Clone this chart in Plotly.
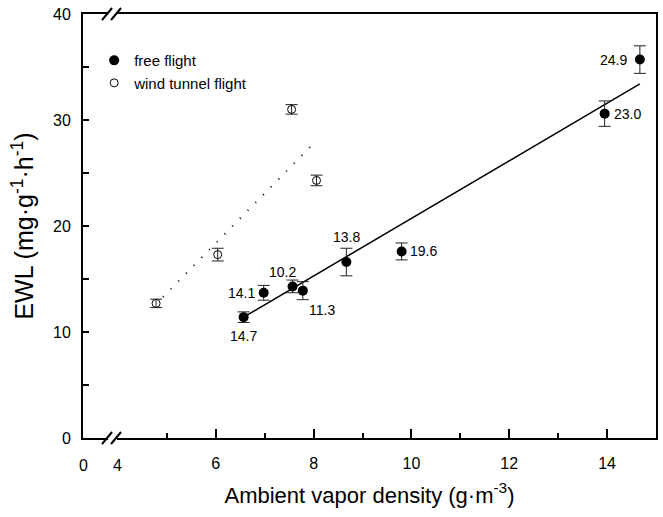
import plotly.graph_objects as go

# ---- data ----
free_x = [6.57, 6.98, 7.57, 7.78, 8.67, 9.80, 13.95, 14.67]
free_y = [11.4, 13.7, 14.3, 13.9, 16.6, 17.6, 30.6, 35.7]
free_err = [0.5, 0.7, 0.6, 0.85, 1.3, 0.8, 1.2, 1.3]
free_labels = ["14.7", "14.1", "10.2", "11.3", "13.8", "19.6", "23.0", "24.9"]

wind_x = [4.78, 6.04, 7.55, 8.06]
wind_y = [12.7, 17.3, 31.0, 24.3]
wind_err = [0.4, 0.6, 0.45, 0.5]

free_fit_x = [6.57, 14.67]
free_fit_y = [11.4, 33.4]
wind_fit_x = [4.92, 7.94]
wind_fit_y = [13.3, 27.5]

x_tick_vals = [6, 8, 10, 12, 14]
x_tick_text = ["6", "8", "10", "12", "14"]
y_tick_vals = [0, 10, 20, 30, 40]
y_tick_text = ["0", "10", "20", "30", "40"]

# broken axis: real 0 drawn at this position, 4 at its own value
x_zero_pos = 3.286
x_break_pos = 3.9

# ---- styling / positions (not data) ----
label_offsets = [(0, -19), (-22, 0), (-10, 14), (19, -19), (0, 25), (22, 0), (23, 0), (-26, 0)]
FONT = "Liberation Sans, Arial, sans-serif"

fig = go.Figure()

fig.add_trace(go.Scatter(
    x=free_fit_x, y=free_fit_y, mode="lines",
    line=dict(color="black", width=1.5), showlegend=False, hoverinfo="skip"))
fig.add_trace(go.Scatter(
    x=wind_fit_x, y=wind_fit_y, mode="lines",
    line=dict(color="black", width=2, dash="1px,10px"), showlegend=False, hoverinfo="skip"))

fig.add_trace(go.Scatter(
    x=free_x, y=free_y, mode="markers", name="free flight",
    marker=dict(symbol="circle", size=10, color="black"),
    error_y=dict(type="data", array=free_err, color="#222", thickness=1, width=6)))
fig.add_trace(go.Scatter(
    x=wind_x, y=wind_y, mode="markers", name="wind tunnel flight",
    marker=dict(symbol="circle-open", size=8, color="black", line=dict(width=1)),
    error_y=dict(type="data", array=wind_err, color="#222", thickness=1, width=6)))

for xv, yv, txt, (dx, dy) in zip(free_x, free_y, free_labels, label_offsets):
    fig.add_annotation(x=xv, y=yv, xref="x", yref="y", text=txt, showarrow=False,
                       xshift=dx, yshift=dy, font=dict(size=14, color="black", family=FONT))

# labels "0" and "4" on the broken x axis
for xv, txt in [(x_zero_pos, "0"), (4, "4")]:
    fig.add_annotation(x=xv, y=0, xref="x", yref="paper", text=txt, showarrow=False,
                       yanchor="top", yshift=-17, font=dict(size=16, color="black", family=FONT))

# axis break marks on bottom and top axes
for ypaper in [0, 1]:
    fig.add_shape(type="line", xref="x", yref="paper", layer="above",
                  xsizemode="pixel", xanchor=x_break_pos, x0=-5, x1=4,
                  ysizemode="pixel", yanchor=ypaper, y0=0, y1=0,
                  line=dict(color="white", width=4))
    for off in [-6, 3]:
        fig.add_shape(type="line", xref="x", yref="paper", layer="above",
                      xsizemode="pixel", xanchor=x_break_pos, x0=off - 5, x1=off + 5,
                      ysizemode="pixel", yanchor=ypaper, y0=-6, y1=6,
                      line=dict(color="black", width=2))

fig.update_layout(
    width=663, height=517,
    margin=dict(l=83, r=7, t=14, b=79, autoexpand=False),
    paper_bgcolor="white", plot_bgcolor="white",
    font=dict(family=FONT, size=16, color="black"),
    showlegend=True,
    legend=dict(x=0.0195, y=0.929, xanchor="left", yanchor="top",
                bgcolor="rgba(0,0,0,0)", font=dict(size=15, family=FONT),
                itemwidth=30, tracegroupgap=0),
    xaxis=dict(
        range=[x_zero_pos, 15], showgrid=False, zeroline=False, automargin=False,
        showline=True, linecolor="black", linewidth=2, mirror=True,
        tickmode="array", tickvals=x_tick_vals, ticktext=x_tick_text,
        ticks="inside", ticklen=9, tickwidth=2, tickcolor="black",
        ticklabelstandoff=10,
        minor=dict(tickmode="array", tickvals=[5, 7, 9, 11, 13],
                   ticks="inside", ticklen=5, tickwidth=2, tickcolor="black"),
        title=dict(text="Ambient vapor density (g·m<sup>-3</sup>)",
                   font=dict(size=22, family=FONT), standoff=16),
    ),
    yaxis=dict(
        range=[0, 40], showgrid=False, zeroline=False, automargin=False,
        showline=True, linecolor="black", linewidth=2, mirror=True,
        tickmode="array", tickvals=y_tick_vals, ticktext=y_tick_text,
        ticks="inside", ticklen=6, tickwidth=2, tickcolor="black",
        ticklabelstandoff=7,
        minor=dict(tickmode="array", tickvals=[5, 15, 25, 35],
                   ticks="inside", ticklen=6, tickwidth=2, tickcolor="black"),
        title=dict(text="EWL (mg·g<sup>-1</sup>·h<sup>-1</sup>)",
                   font=dict(size=25, family=FONT), standoff=12),
    ),
)

fig.write_html("out.html", config={"displayModeBar": False},
               post_script="document.body.style.margin='0';document.body.style.padding='0';")
